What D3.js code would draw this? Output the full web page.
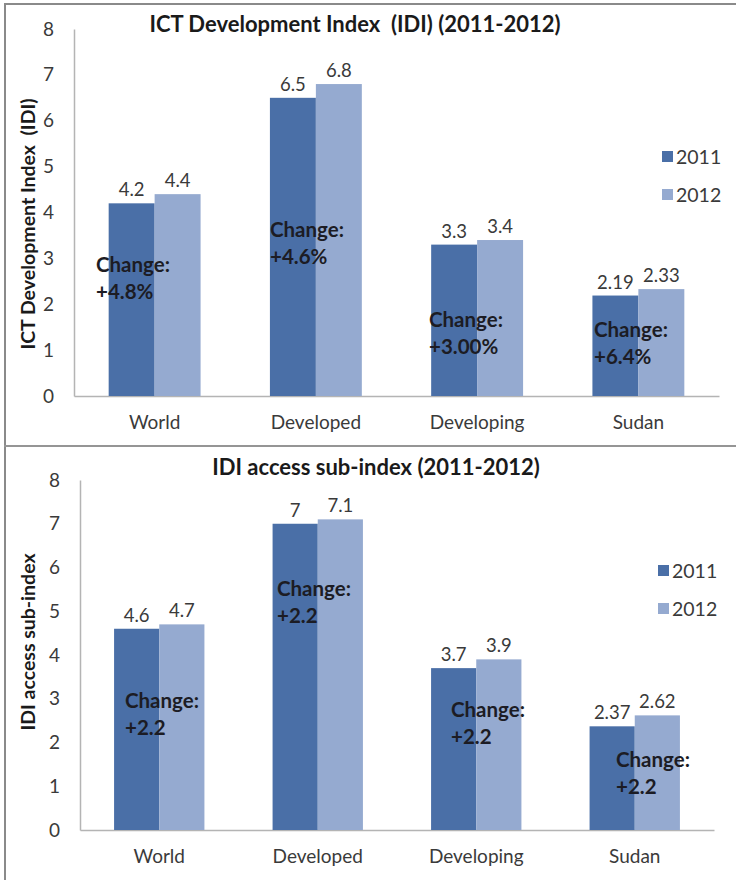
<!DOCTYPE html>
<html>
<head>
<meta charset="utf-8">
<script src="https://cdn.jsdelivr.net/npm/d3@7/dist/d3.min.js"></script>
<style>
  html, body { margin: 0; padding: 0; background: #fff; }
  svg { display: block; font-family: Lato, "Open Sans", sans-serif; }
</style>
</head>
<body>
<svg id="chart" width="736" height="880"></svg>
<script>
// Regions compared in both panels
const categories = ["World", "Developed", "Developing", "Sudan"];
const years = ["2011", "2012"];
const yTicks = [0, 1, 2, 3, 4, 5, 6, 7, 8];

// ICT Development Index values
const idi2011 = [4.2, 6.5, 3.3, 2.19];
const idi2012 = [4.4, 6.8, 3.4, 2.33];
const idiChange = ["+4.8%", "+4.6%", "+3.00%", "+6.4%"];

// IDI access sub-index values
const access2011 = [4.6, 7, 3.7, 2.37];
const access2012 = [4.7, 7.1, 3.9, 2.62];
const accessChange = ["+2.2", "+2.2", "+2.2", "+2.2"];

const colors = { "2011": "#4a6fa7", "2012": "#95aad0" };

const svg = d3.select("#chart");

// Outer frame and the rule between the two panels
svg.append("line").attr("x1", 4).attr("x2", 736).attr("y1", 4).attr("y2", 4)
  .attr("stroke", "#8a8a8a").attr("stroke-width", 2);
svg.append("line").attr("x1", 5).attr("x2", 5).attr("y1", 3).attr("y2", 880)
  .attr("stroke", "#8a8a8a").attr("stroke-width", 2);
svg.append("line").attr("x1", 4).attr("x2", 736).attr("y1", 446).attr("y2", 446)
  .attr("stroke", "#959595").attr("stroke-width", 2);

function drawPanel(opts) {
  const { title, titleX, titleY, yTitle, yTitleX, yTitleY,
          x0, x1, yZero, yTop, v2011, v2012, change, changePos,
          legendX, legendY } = opts;

  const g = svg.append("g");
  const x = d3.scaleBand().domain(categories).range([x0, x1]).paddingInner(0).paddingOuter(0);
  const y = d3.scaleLinear().domain([0, 8]).range([yZero, yTop]);
  const barW = x.bandwidth() * 0.285;

  // Axes: vertical line with labels only, baseline without ticks
  const yAxis = d3.axisLeft(y).tickValues(yTicks).tickSize(0).tickPadding(20)
    .tickFormat(d3.format("d"));
  const ya = g.append("g").attr("transform", `translate(${x0},0)`).call(yAxis);
  ya.select(".domain").attr("stroke", "#b4b4b4").attr("stroke-width", 1.5);
  ya.selectAll("text").attr("font-size", 19).attr("fill", "#3a3a3a")
    .attr("font-family", "Lato, sans-serif");

  const xAxis = d3.axisBottom(x).tickSize(0).tickPadding(20);
  const xa = g.append("g").attr("transform", `translate(0,${yZero})`).call(xAxis);
  xa.select(".domain").attr("stroke", "#b4b4b4").attr("stroke-width", 1.5);
  xa.selectAll("text").attr("font-size", 19).attr("fill", "#3a3a3a")
    .attr("font-family", "Lato, sans-serif");

  const rows = categories.map((c, i) => ({ c, i, a: v2011[i], b: v2012[i] }));

  // Bars for each year
  const series = [["2011", "a", -1], ["2012", "b", 0]];
  series.forEach(([yr, key, off]) => {
    g.selectAll(null).data(rows).enter().append("rect")
      .attr("x", d => x(d.c) + x.bandwidth() / 2 + off * barW)
      .attr("y", d => y(d[key]))
      .attr("width", barW)
      .attr("height", d => yZero - y(d[key]))
      .attr("fill", colors[yr]);

    g.selectAll(null).data(rows).enter().append("text")
      .attr("x", d => x(d.c) + x.bandwidth() / 2 + off * barW + barW / 2)
      .attr("y", d => y(d[key]) - 7)
      .attr("text-anchor", "middle")
      .attr("font-size", 18.5).attr("fill", "#3a3a3a")
      .text(d => d[key]);
  });

  // Change annotations
  rows.forEach(d => {
    const p = changePos[d.i];
    const t = g.append("text").attr("font-size", 20.5).attr("font-weight", "bold")
      .attr("fill", "#1c1c24");
    t.append("tspan").attr("x", p[0]).attr("y", p[1]).text("Change:");
    t.append("tspan").attr("x", p[0]).attr("y", p[1] + 27).text(change[d.i]);
  });

  // Title
  g.append("text").attr("x", titleX).attr("y", titleY).attr("text-anchor", "middle")
    .attr("font-size", 22).attr("font-weight", "bold").attr("fill", "#1a1a1a")
    .attr("xml:space", "preserve")
    .text(title);

  // Y axis title
  g.append("text").attr("transform", `translate(${yTitleX},${yTitleY}) rotate(-90)`)
    .attr("text-anchor", "middle").attr("font-size", 19.5).attr("font-weight", "bold")
    .attr("fill", "#1a1a1a").attr("xml:space", "preserve")
    .text(yTitle);

  // Legend
  years.forEach((yr, i) => {
    const ly = legendY + i * 38;
    g.append("rect").attr("x", legendX).attr("y", ly - 6).attr("width", 11).attr("height", 11)
      .attr("fill", colors[yr]);
    g.append("text").attr("x", legendX + 14).attr("y", ly + 7)
      .attr("font-size", 19.5).attr("fill", "#3a3a3a").text(yr);
  });
}

drawPanel({
  title: "ICT Development Index  (IDI) (2011-2012)",
  titleX: 355, titleY: 32,
  yTitle: "ICT Development Index  (IDI)",
  yTitleX: 35, yTitleY: 224,
  x0: 74, x1: 719, yZero: 396, yTop: 29,
  v2011: idi2011, v2012: idi2012, change: idiChange,
  changePos: [[96, 272], [270, 237], [429, 327], [594, 337]],
  legendX: 662, legendY: 157
});

drawPanel({
  title: "IDI access sub-index (2011-2012)",
  titleX: 376, titleY: 475,
  yTitle: "IDI access sub-index",
  yTitleX: 35, yTitleY: 642,
  x0: 80, x1: 714, yZero: 830, yTop: 480,
  v2011: access2011, v2012: access2012, change: accessChange,
  changePos: [[125, 708], [277, 596], [451, 717], [616, 767]],
  legendX: 658, legendY: 571
});
</script>
</body>
</html>
